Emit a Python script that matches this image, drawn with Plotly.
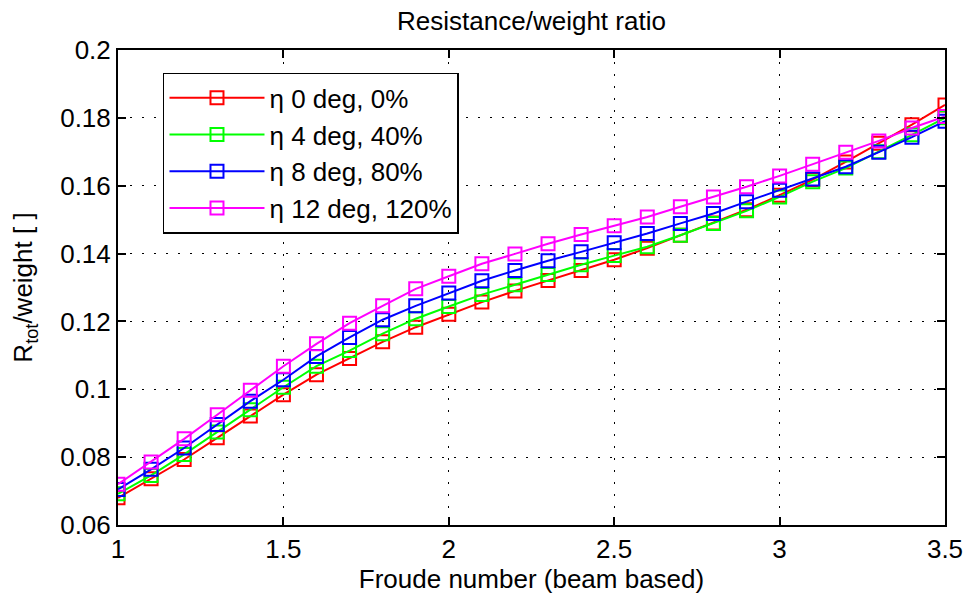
import plotly.graph_objects as go

froude = [1.0, 1.1, 1.2, 1.3, 1.4, 1.5, 1.6, 1.7, 1.8, 1.9, 2.0, 2.1, 2.2,
          2.3, 2.4, 2.5, 2.6, 2.7, 2.8, 2.9, 3.0, 3.1, 3.2, 3.3, 3.4, 3.5]

eta_0 = [0.0680, 0.0736, 0.0793, 0.0857, 0.0921, 0.0984, 0.1043, 0.1091, 0.1140,
         0.1183, 0.1221, 0.1257, 0.1290, 0.1321, 0.1350, 0.1382, 0.1416, 0.1454,
         0.1490, 0.1529, 0.1572, 0.1618, 0.1670, 0.1725, 0.1780, 0.1838]
eta_4 = [0.0692, 0.0746, 0.0808, 0.0874, 0.0940, 0.1006, 0.1068, 0.1114, 0.1164,
         0.1208, 0.1244, 0.1279, 0.1308, 0.1338, 0.1367, 0.1394, 0.1420, 0.1454,
         0.1489, 0.1526, 0.1567, 0.1612, 0.1652, 0.1700, 0.1750, 0.1800]
eta_8 = [0.0705, 0.0764, 0.0827, 0.0896, 0.0965, 0.1028, 0.1097, 0.1153, 0.1205,
         0.1246, 0.1284, 0.1320, 0.1350, 0.1379, 0.1405, 0.1432, 0.1459, 0.1489,
         0.1518, 0.1553, 0.1587, 0.1620, 0.1656, 0.1699, 0.1743, 0.1790]
eta_12 = [0.0720, 0.0786, 0.0854, 0.0925, 0.0997, 0.1068, 0.1134, 0.1195, 0.1246,
          0.1296, 0.1333, 0.1370, 0.1399, 0.1429, 0.1456, 0.1482, 0.1508, 0.1538,
          0.1567, 0.1597, 0.1629, 0.1663, 0.1699, 0.1732, 0.1770, 0.1804]

series_names = ["η 0 deg, 0%", "η 4 deg, 40%", "η 8 deg, 80%", "η 12 deg, 120%"]
series_values = [eta_0, eta_4, eta_8, eta_12]
series_colors = ["#FF0000", "#00FF00", "#0000FF", "#FF00FF"]

x_ticks = [1, 1.5, 2, 2.5, 3, 3.5]
x_ticklabels = ["1", "1.5", "2", "2.5", "3", "3.5"]
y_ticks = [0.06, 0.08, 0.10, 0.12, 0.14, 0.16, 0.18, 0.20]
y_ticklabels = ["0.06", "0.08", "0.1", "0.12", "0.14", "0.16", "0.18", "0.2"]

FONT = "Liberation Sans, Arial, Helvetica, sans-serif"

fig = go.Figure()
for name, vals, col in zip(series_names, series_values, series_colors):
    fig.add_trace(go.Scatter(
        x=froude, y=vals, name=name, mode="lines+markers",
        line=dict(color=col, width=2),
        marker=dict(symbol="square-open", size=13, color=col,
                    line=dict(color=col, width=2)),
    ))

axis_common = dict(
    showline=True, linecolor="black", linewidth=2, mirror="allticks",
    ticks="inside", ticklen=8, tickwidth=1.5, tickcolor="black",
    showgrid=True, gridcolor="black", gridwidth=1.2, griddash="2px,10px",
    zeroline=False, automargin=False,
    tickfont=dict(family=FONT, size=26, color="black"),
)

fig.update_xaxes(range=[1, 3.5], tickmode="array", tickvals=x_ticks,
                 ticktext=x_ticklabels,
                 title=dict(text="Froude number (beam based)", standoff=4,
                            font=dict(family=FONT, size=26, color="black")),
                 **axis_common)
fig.update_yaxes(range=[0.06, 0.2], tickmode="array", tickvals=y_ticks,
                 ticktext=y_ticklabels,
                 title=dict(text="R<sub>tot</sub>/weight [ ]", standoff=20,
                            font=dict(family=FONT, size=26, color="black")),
                 **axis_common)

fig.update_layout(
    width=967, height=598,
    margin=dict(l=118, r=22, t=50, b=73),
    paper_bgcolor="white", plot_bgcolor="white",
    font=dict(family=FONT, size=26, color="black"),
    title=dict(text="Resistance/weight ratio", x=0.5, xanchor="center",
               xref="paper", y=0.965, yanchor="middle",
               font=dict(family=FONT, size=26, color="black")),
    showlegend=True,
    legend=dict(x=0.0544, y=0.952, xanchor="left", yanchor="top",
                bgcolor="white", bordercolor="black", borderwidth=1.5,
                itemwidth=95, font=dict(family=FONT, size=26, color="black"),
                tracegroupgap=0),
)

fig.write_html("out.html")
